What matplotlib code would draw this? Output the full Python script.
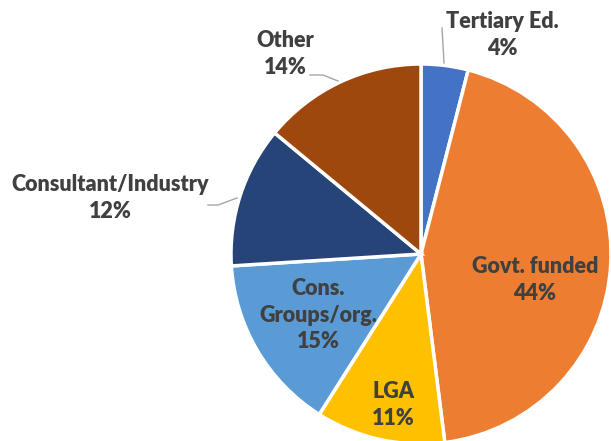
import matplotlib.pyplot as plt

labels = ["Tertiary Ed.", "Govt. funded", "LGA", "Cons.\nGroups/org.", "Consultant/Industry", "Other"]
shares = [4, 44, 11, 15, 12, 14]
colors = ["#4472C4", "#ED7D31", "#FFC000", "#5B9BD5", "#264478", "#9E480E"]

# label anchor points in pixel space (x, y from top)
label_pos = [(502, 35), (535, 280), (393, 405), (318, 315), (110, 198), (285, 54)]

fig = plt.figure(figsize=(6.11, 4.41), dpi=100)
ax = fig.add_axes([0, 0, 1, 1])
ax.set_xlim(0, 611)
ax.set_ylim(441, 0)
ax.axis("off")

ax.pie(shares, colors=colors, center=(421, 254), radius=190,
       startangle=-90, counterclock=True,
       wedgeprops=dict(edgecolor="white", linewidth=2.5))
ax.set_xlim(0, 611)
ax.set_ylim(441, 0)
ax.set_aspect("equal")

for lab, val, (x, y) in zip(labels, shares, label_pos):
    ax.text(x, y, f"{lab}\n{val}%", ha="center", va="center",
            fontsize=15.5, fontweight="heavy", color="#404040",
            family="Lato", linespacing=1.3)

# leader lines
lc = "#A6A6A6"
ax.plot([442, 444], [28, 63], color=lc, lw=1)
ax.plot([310, 323, 338], [75, 75, 81], color=lc, lw=1)
ax.plot([208, 218, 237], [205, 205, 198], color=lc, lw=1)

fig.savefig("out.png", dpi=100)
